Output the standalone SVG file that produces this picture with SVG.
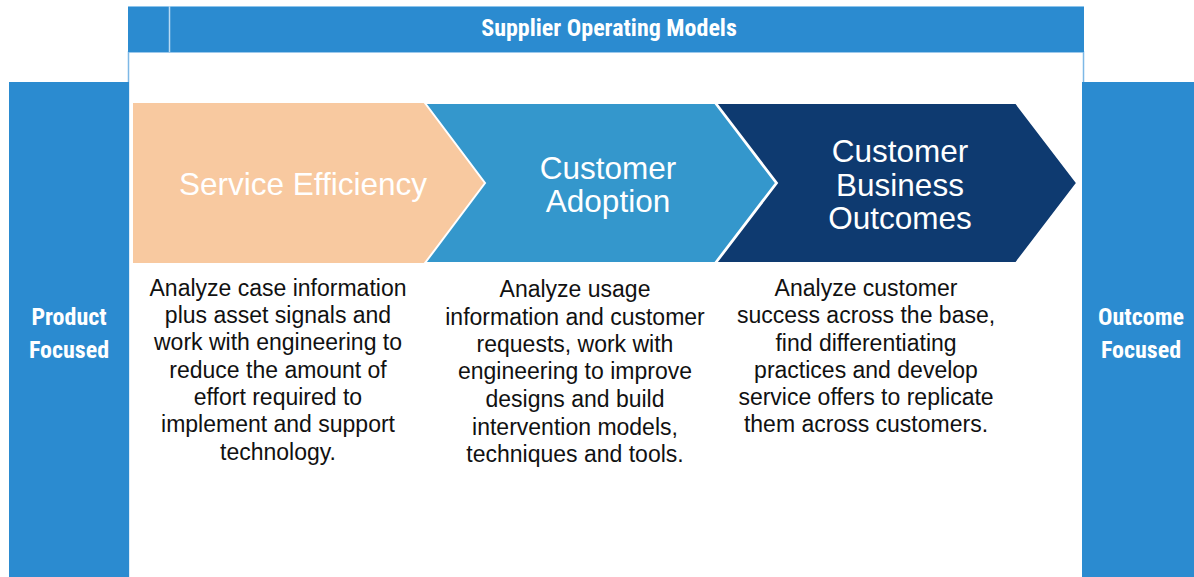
<svg xmlns="http://www.w3.org/2000/svg" width="1194" height="577" viewBox="0 0 1194 577">
<style>
.band{fill:#2B8BD0}
.lbl{font-family:"Liberation Sans Narrow","Roboto Condensed","Liberation Sans",sans-serif;font-weight:bold;fill:#fff;text-anchor:middle}
.chev{font-family:"Liberation Sans",Arial,sans-serif;fill:#fff;text-anchor:middle;font-size:31.5px}
.body{font-family:"Liberation Sans",Arial,sans-serif;fill:#111;text-anchor:middle;font-size:23px}
</style>
<rect width="1194" height="577" fill="#fff"/>
<g id="panel">
<rect x="128.5" y="52" width="955" height="530" fill="#fff" stroke="#7DB8E6" stroke-width="1.5"/>
</g>
<g id="header">
<rect class="band" x="128" y="6" width="956" height="46"/>
<line x1="128" y1="6.5" x2="1084" y2="6.5" stroke="#8CC4EC" stroke-width="1"/>
<line x1="169.5" y1="6" x2="169.5" y2="52" stroke="#B8DAF3" stroke-width="1.5"/>
<text class="lbl" x="609" y="36" font-size="24">Supplier Operating Models</text>
</g>
<g id="product-focused">
<rect class="band" x="9" y="82" width="120" height="500"/>
<text class="lbl" x="69" y="325" font-size="24">Product</text>
<text class="lbl" x="69" y="358" font-size="24">Focused</text>
</g>
<g id="outcome-focused">
<rect class="band" x="1082" y="82" width="112" height="500"/>
<text class="lbl" x="1141" y="325" font-size="24">Outcome</text>
<text class="lbl" x="1141" y="358" font-size="24">Focused</text>
</g>
<g id="service-efficiency">
<polygon points="133,103 425,103 485,183 425,263 133,263" fill="#F8C9A0"/>
<text class="chev" x="303" y="195">Service Efficiency</text>
<text class="body" x="278" y="296">Analyze case information</text>
<text class="body" x="278" y="323">plus asset signals and</text>
<text class="body" x="278" y="350">work with engineering to</text>
<text class="body" x="278" y="378">reduce the amount of</text>
<text class="body" x="278" y="405">effort required to</text>
<text class="body" x="278" y="432">implement and support</text>
<text class="body" x="278" y="460">technology.</text>
</g>
<g id="customer-adoption">
<polygon points="425,103 715,103 776,183 715,263 425,263 485,183" fill="#3497CC" stroke="#fff" stroke-width="2" stroke-linejoin="miter"/>
<text class="chev" x="608" y="179">Customer</text>
<text class="chev" x="608" y="212">Adoption</text>
<text class="body" x="575" y="297">Analyze usage</text>
<text class="body" x="575" y="325">information and customer</text>
<text class="body" x="575" y="352">requests, work with</text>
<text class="body" x="575" y="379">engineering to improve</text>
<text class="body" x="575" y="407">designs and build</text>
<text class="body" x="575" y="435">intervention models,</text>
<text class="body" x="575" y="462">techniques and tools.</text>
</g>
<g id="customer-business-outcomes">
<polygon points="716,103 1016,103 1077,183 1016,263 716,263 777,183" fill="#0E3A70" stroke="#fff" stroke-width="2"/>
<text class="chev" x="900" y="162">Customer</text>
<text class="chev" x="900" y="196">Business</text>
<text class="chev" x="900" y="229">Outcomes</text>
<text class="body" x="866" y="296">Analyze customer</text>
<text class="body" x="866" y="323">success across the base,</text>
<text class="body" x="866" y="351">find differentiating</text>
<text class="body" x="866" y="378">practices and develop</text>
<text class="body" x="866" y="405">service offers to replicate</text>
<text class="body" x="866" y="432">them across customers.</text>
</g>
<g id="connectors"></g>
</svg>
